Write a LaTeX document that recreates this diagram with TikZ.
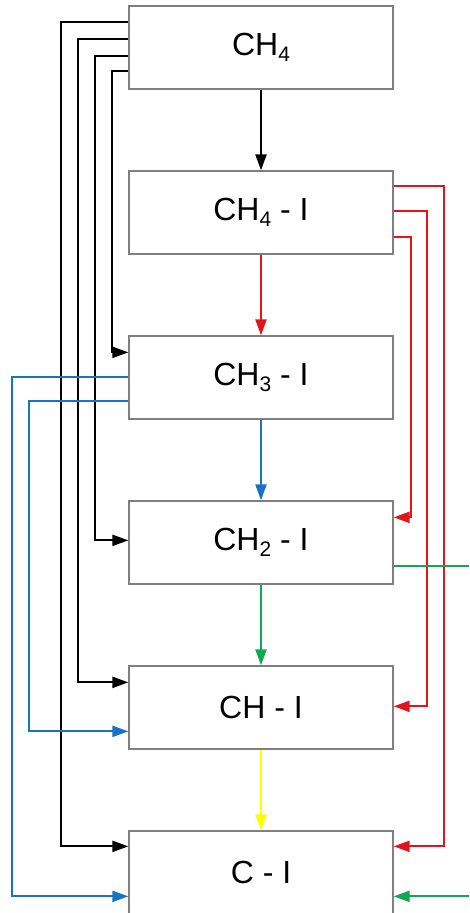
\documentclass[tikz,border=0pt]{standalone}
\usepackage{fontspec}
\setmainfont{Liberation Sans}
\usetikzlibrary{arrows.meta}
\newcommand\subsc[1]{\raisebox{-6pt}{\fontsize{21}{21}\selectfont #1}}
\definecolor{cred}{HTML}{E3141C}
\definecolor{cblue}{HTML}{1874C2}
\definecolor{cgreen}{HTML}{0FA855}
\definecolor{cyellow}{HTML}{FFFF00}
\definecolor{boxgray}{HTML}{7F7F7F}
\begin{document}
\begin{tikzpicture}[x=1pt,y=-1pt,
  box/.style={draw=boxgray, line width=1.3pt, minimum width=264pt, minimum height=83pt, inner sep=0pt, font=\fontsize{32}{32}\selectfont},
  conn/.style={line width=2.2pt, -{Triangle[length=16pt,width=11pt]}},
  ]
\useasboundingbox (0,0) rectangle (469,913);
\clip (0,0) rectangle (469,913);
\node[box] (ch4)  at (261,47.5)  {CH\subsc{4}};
\node[box] (ch4i) at (261,212.5) {CH\subsc{4} - I};
\node[box] (ch3i) at (261,377.5) {CH\subsc{3} - I};
\node[box] (ch2i) at (261,542.5) {CH\subsc{2} - I};
\node[box] (chi)  at (261,707.5) {CH - I};
\node[box] (ci)   at (261,872.5) {C - I};
% vertical chain
\draw[conn, black]   (ch4.south)  -- (ch4i.north);
\draw[conn, cred]    (ch4i.south) -- (ch3i.north);
\draw[conn, cblue]   (ch3i.south) -- (ch2i.north);
\draw[conn, cgreen]  (ch2i.south) -- (chi.north);
\draw[conn, cyellow] (chi.south)  -- (ci.north);
% black bypasses from CH4
\draw[conn, black] ([yshift=-17pt]ch4.north west) -- ++(-67,0) |- ([yshift=-16pt]ci.north west);
\draw[conn, black] ([yshift=-34pt]ch4.north west) -- ++(-50,0) |- ([yshift=-17pt]chi.north west);
\draw[conn, black] ([yshift=-51pt]ch4.north west) -- ++(-33,0) |- ([yshift=-40pt]ch2i.north west);
\draw[conn, black] ([yshift=-66pt]ch4.north west) -- ++(-16,0) |- ([yshift=-17pt]ch3i.north west);
% red bypasses from CH4-I
\draw[conn, cred] ([yshift=-16pt]ch4i.north east) -- ++(50,0) |- ([yshift=-16pt]ci.north east);
\draw[conn, cred] ([yshift=-41pt]ch4i.north east) -- ++(33,0) |- ([yshift=-41pt]chi.north east);
\draw[conn, cred] ([yshift=-67pt]ch4i.north east) -- ++(17,0) |- ([yshift=-17pt]ch2i.north east);
% blue bypasses from CH3-I
\draw[conn, cblue] ([yshift=-42pt]ch3i.north west) -- ++(-116,0) |- ([yshift=-66pt]ci.north west);
\draw[conn, cblue] ([yshift=-66pt]ch3i.north west) -- ++(-99,0) |- ([yshift=-66pt]chi.north west);
% green bypass from CH2-I
\draw[conn, cgreen] ([yshift=-66pt]ch2i.north east) -- ++(90,0) |- ([yshift=-66pt]ci.north east);
\end{tikzpicture}
\end{document}
